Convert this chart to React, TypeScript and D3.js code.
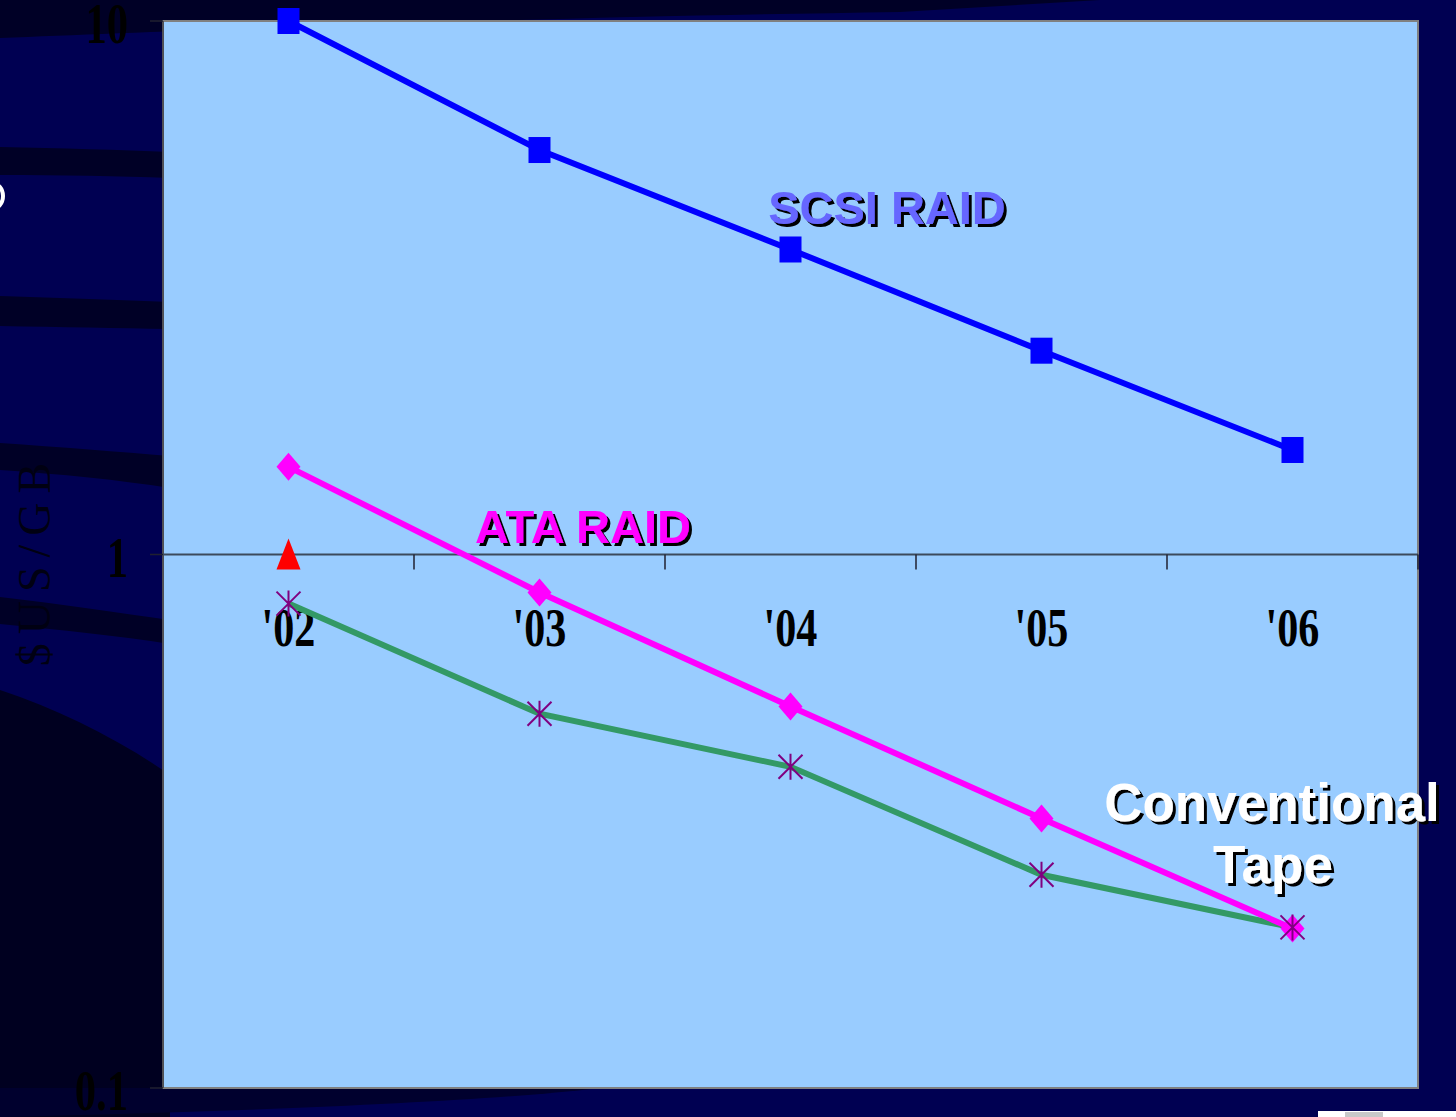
import React from "react";
import * as d3 from "d3";

const years = ["'02", "'03", "'04", "'05", "'06"];
const scsiRaid = [10, 5.73, 3.73, 2.41, 1.57];
const ataRaid = [1.46, 0.849, 0.519, 0.32, 0.199];
const conventionalTape = [0.809, 0.503, 0.4, 0.251, 0.2];
const singlePoint = [{ year: "'02", value: 1.0 }];
const yTicks = [10, 1, 0.1];
const yTickLabels = ["10", "1", "0.1"];

const W = 1456;
const H = 1117;
const plot = { left: 163, right: 1418, top: 21, bottom: 1088 };

const x = d3.scaleBand<string>().domain(years).range([plot.left, plot.right]);
const cx = (c: string) => (x(c) ?? 0) + x.bandwidth() / 2;
const y = d3.scaleLog().domain([0.1, 10]).range([plot.bottom, plot.top]);

const lineGen = d3
  .line<number>()
  .x((_, i) => cx(years[i]))
  .y((d) => y(d));

// condensed serif numbers, as in the slide's axis labels
function SerifLabel({ tx, ty, text, anchor, size = 56, sx = 0.76 }: any) {
  return (
    <text
      transform={`translate(${tx},${ty}) scale(${sx},1)`}
      textAnchor={anchor}
      fontFamily="'Liberation Serif', 'DejaVu Serif', serif"
      fontWeight="bold"
      fontSize={size}
      fill="#000000"
    >
      {text}
    </text>
  );
}

function ShadowLabel({ tx, ty, text, fill, size }: any) {
  return (
    <text
      x={tx}
      y={ty}
      fill={fill}
      filter="url(#hardShadow)"
      fontFamily="'Liberation Sans', Arial, sans-serif"
      fontWeight="bold"
      fontSize={size}
      textAnchor="middle"
    >
      {text}
    </text>
  );
}

export default function App() {
  const bandEdges = years.map((c) => (x(c) ?? 0) + x.bandwidth());
  return (
    <svg
      width={W}
      height={H}
      style={{ position: "absolute", left: 0, top: 0, display: "block" }}
    >
      <defs>
        <filter id="hardShadow" x="-10%" y="-20%" width="130%" height="150%">
          <feDropShadow dx={3} dy={3} stdDeviation={0} floodColor="#000000" floodOpacity={1} />
        </filter>
      </defs>

      {/* slide background */}
      <rect x={0} y={0} width={W} height={H} fill="#000052" />
      <path d="M0,10 L0,38 C200,30 500,18 900,12 L1100,0 L0,0 Z" fill="#000026" />
      <path d="M0,147 C60,148 120,150 170,152 L170,178 C120,176 60,175 0,175 Z" fill="#000026" />
      <path d="M0,296 C60,298 120,300 170,302 L170,329 C120,328 60,327 0,326 Z" fill="#000026" />
      <path d="M0,443 C60,447 120,452 170,456 L170,488 C120,480 60,474 0,470 Z" fill="#000026" />
      <path d="M0,597 C60,604 120,613 170,620 L170,644 C120,636 60,630 0,624 Z" fill="#000026" />
      <path d="M0,690 C60,710 120,740 170,775 L170,1117 L0,1117 Z" fill="#000020" />
      <path d="M0,1088 L600,1088 C500,1100 300,1110 0,1117 Z" fill="#00002e" />
      <ellipse cx={-8} cy={196} rx={11} ry={13} fill="none" stroke="#ffffff" strokeWidth={4} />

      {/* plot area */}
      <rect
        x={plot.left}
        y={plot.top}
        width={plot.right - plot.left}
        height={plot.bottom - plot.top}
        fill="#99ccff"
        stroke="#808080"
        strokeWidth={2}
      />
      <line x1={plot.left} x2={plot.left} y1={plot.top} y2={plot.bottom} stroke="#404048" strokeWidth={1.5} />

      {/* y axis ticks and labels */}
      {yTicks.map((t, i) => (
        <g key={t}>
          <line x1={plot.left - 13} x2={plot.left} y1={y(t)} y2={y(t)} stroke="#202030" strokeWidth={1.5} />
          <SerifLabel tx={128} ty={y(t) + 22} text={yTickLabels[i]} anchor="end" />
        </g>
      ))}

      {/* category axis crossing at 1 */}
      <line x1={plot.left} x2={plot.right} y1={y(1)} y2={y(1)} stroke="#3c4a5c" strokeWidth={2} />
      {bandEdges.map((bx, i) => (
        <line key={i} x1={bx} x2={bx} y1={y(1)} y2={y(1) + 15} stroke="#202030" strokeWidth={1.5} />
      ))}
      {years.map((c) => (
        <SerifLabel key={c} tx={cx(c)} ty={646} text={c} anchor="middle" size={54} sx={0.78} />
      ))}

      {/* axis title */}
      <text
        transform={`translate(50,560) rotate(-90)`}
        textAnchor="middle"
        fontFamily="'Liberation Serif', 'DejaVu Serif', serif"
        fontSize={46}
        letterSpacing={9}
        fill="#000012"
      >
        $US/GB
      </text>

      {/* conventional tape */}
      <path d={lineGen(conventionalTape) ?? ""} fill="none" stroke="#339966" strokeWidth={6} />

      {/* ATA RAID */}
      <path d={lineGen(ataRaid) ?? ""} fill="none" stroke="#ff00ff" strokeWidth={6} />
      {ataRaid.map((v, i) => {
        const px = cx(years[i]);
        const py = y(v);
        return (
          <path
            key={i}
            d={`M${px},${py - 14} L${px + 12},${py} L${px},${py + 14} L${px - 12},${py} Z`}
            fill="#ff00ff"
          />
        );
      })}

      {/* tape asterisks */}
      {conventionalTape.map((v, i) => {
        const px = cx(years[i]);
        const py = y(v);
        const r = 12;
        return (
          <path
            key={i}
            d={`M${px},${py - r - 1} L${px},${py + r + 1} M${px - r},${py - r} L${px + r},${py + r} M${px + r},${py - r} L${px - r},${py + r}`}
            stroke="#800080"
            strokeWidth={2}
            fill="none"
          />
        );
      })}

      {/* SCSI RAID */}
      <path d={lineGen(scsiRaid) ?? ""} fill="none" stroke="#0000ff" strokeWidth={6} />
      {scsiRaid.map((v, i) => {
        const px = cx(years[i]);
        const py = y(v);
        return <rect key={i} x={px - 11} y={py - 13} width={22} height={26} fill="#0000ff" />;
      })}

      {/* single red triangle point */}
      {singlePoint.map((p) => {
        const px = cx(p.year);
        const py = y(p.value);
        return (
          <path
            key={p.year}
            d={`M${px},${py - 16} L${px + 12},${py + 15} L${px - 12},${py + 15} Z`}
            fill="#ff0000"
          />
        );
      })}

      {/* series labels */}
      <ShadowLabel tx={887} ty={224} text="SCSI RAID" fill="#6666ff" size={47} />
      <ShadowLabel tx={583} ty={543} text="ATA RAID" fill="#ff00ff" size={47} />
      <ShadowLabel tx={1272} ty={821} text="Conventional" fill="#ffffff" size={53} />
      <ShadowLabel tx={1273} ty={883} text="Tape" fill="#ffffff" size={53} />

      {/* corner of next object on the slide */}
      <rect x={1318} y={1111} width={138} height={6} fill="#ffffff" />
      <rect x={1345} y={1112} width={38} height={5} fill="#c8c8c8" />
    </svg>
  );
}
